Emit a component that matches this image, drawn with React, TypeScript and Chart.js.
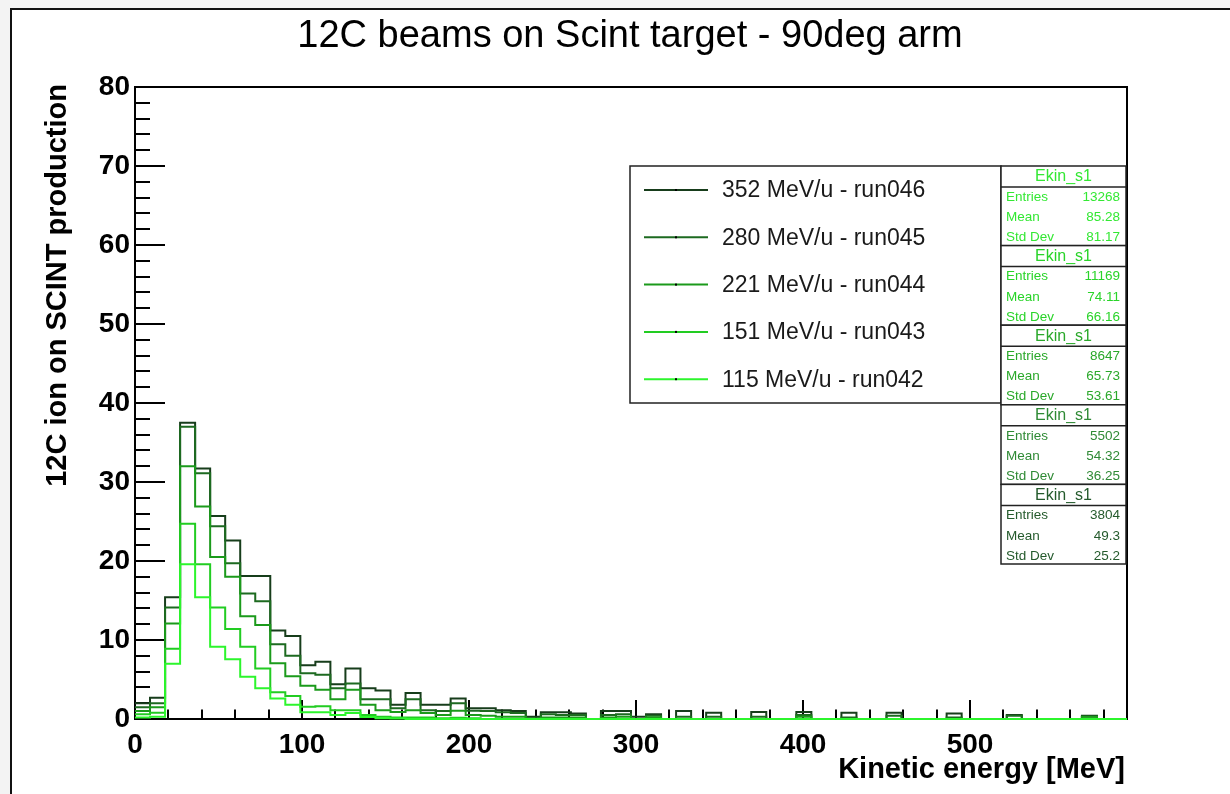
import React, { useEffect, useRef } from "react";
import { Chart, registerables } from "chart.js";

Chart.register(...registerables);

// ---------- data ----------
const BIN_WIDTH = 9;
const X_MIN = 0;
const X_MAX = 594;
const Y_MIN = 0;
const Y_MAX = 80;
const X_MAJOR = 100;
const X_MINOR = 20;
const Y_MAJOR = 10;
const Y_MINOR = 2;
const xTickValues = [0, 100, 200, 300, 400, 500];
const yTickValues = [0, 10, 20, 30, 40, 50, 60, 70, 80];

const TITLE = "12C beams on Scint target - 90deg arm";
const X_TITLE = "Kinetic energy [MeV]";
const Y_TITLE = "12C ion on SCINT production";

const seriesLabels = [
  "352 MeV/u - run046",
  "280 MeV/u - run045",
  "221 MeV/u - run044",
  "151 MeV/u - run043",
  "115 MeV/u - run042",
];

const run046 = [
  2.0, 2.7, 15.4, 37.5, 31.7, 25.7, 22.6, 18.1, 18.1, 11.2,
  10.5, 6.8, 7.25, 4.4, 6.4, 3.9, 3.6, 1.8, 3.3, 1.8,
  1.8, 2.6, 1.35, 1.35, 1.1, 1.0, 0.3, 0.85, 0.85, 0.7,
  0, 1.0, 1.0, 0.3, 0.6, 0, 1.0, 0, 0.8, 0,
  0, 0.9, 0, 0, 0.9, 0, 0, 0.8, 0, 0,
  0.8, 0, 0, 0, 0.7, 0, 0, 0, 0.5, 0,
  0, 0, 0, 0.4, 0, 0,
];
const run045 = [
  1.5, 2.0, 14.1, 37.0, 31.1, 24.4, 19.7, 15.9, 14.9, 9.45,
  8.0, 5.8, 5.6, 3.9, 4.5, 2.5, 2.5, 1.35, 2.5, 1.1,
  1.0, 2.0, 1.05, 1.0, 0.85, 0.75, 0.1, 0.6, 0.5, 0.5,
  0, 0.5, 0.6, 0, 0.4, 0, 0.3, 0, 0.3, 0,
  0, 0.3, 0, 0, 0.5, 0, 0, 0.2, 0, 0,
  0.4, 0, 0, 0, 0.2, 0, 0, 0, 0.4, 0,
  0, 0, 0, 0.3, 0, 0,
];
const run044 = [
  1.0, 1.5, 12.1, 32.0, 26.9, 20.5, 18.0, 13.0, 11.9, 7.05,
  5.4, 4.2, 3.7, 2.5, 3.7, 1.8, 1.1, 0.9, 1.1, 0.75,
  0.5, 1.05, 0.5, 0.4, 0.3, 0.3, 0, 0.2, 0.2, 0.2,
  0, 0.2, 0.3, 0, 0.2, 0, 0, 0, 0, 0,
  0, 0, 0, 0, 0.3, 0, 0, 0, 0, 0,
  0, 0, 0, 0, 0, 0, 0, 0, 0, 0,
  0, 0, 0, 0.3, 0, 0,
];
const run043 = [
  0.6, 0.8, 8.9, 24.7, 19.6, 14.1, 11.4, 9.15, 6.4, 3.4,
  2.9, 1.56, 1.6, 1.1, 1.1, 0.5, 0.3, 0.2, 0.2, 0.2,
  0.1, 0.15, 0.1, 0, 0, 0, 0, 0, 0, 0,
  0, 0, 0, 0, 0, 0, 0, 0, 0, 0,
  0, 0, 0, 0, 0, 0, 0, 0, 0, 0,
  0, 0, 0, 0, 0, 0, 0, 0, 0, 0,
  0, 0, 0, 0, 0, 0,
];
const run042 = [
  0.2, 0.3, 7.0, 19.6, 15.4, 9.15, 7.56, 5.35, 3.9, 2.6,
  1.8, 0.85, 0.85, 0.5, 0.75, 0.25, 0.1, 0.05, 0, 0,
  0, 0, 0, 0, 0, 0, 0, 0, 0, 0,
  0, 0, 0, 0, 0, 0, 0, 0, 0, 0,
  0, 0, 0, 0, 0, 0, 0, 0, 0, 0,
  0, 0, 0, 0, 0, 0, 0, 0, 0, 0,
  0, 0, 0, 0, 0, 0,
];

const seriesValues = [run046, run045, run044, run043, run042];
const seriesColors = ["#173d1b", "#1d6a20", "#1b9a1b", "#22cc22", "#2cf52c"];

const statTitle = "Ekin_s1";
const statEntries = ["13268", "11169", "8647", "5502", "3804"];
const statMeans = ["85.28", "74.11", "65.73", "54.32", "49.3"];
const statStdDevs = ["81.17", "66.16", "53.61", "36.25", "25.2"];
const statColors = ["#33e833", "#29d429", "#2aa82a", "#2f8a35", "#245a2c"];

const FONT = '"Liberation Sans", Arial, Helvetica, sans-serif';
const W = 1230;
const H = 794;

function toSteps(values: number[]) {
  const pts = values.map((v, i) => ({ x: X_MIN + i * BIN_WIDTH, y: v }));
  pts.push({ x: X_MAX, y: values[values.length - 1] });
  return pts;
}

const rootPlugin = {
  id: "rootStyle",
  beforeDraw(chart: any) {
    const ctx = chart.ctx as CanvasRenderingContext2D;
    ctx.save();
    ctx.fillStyle = "#f3f3f3";
    ctx.fillRect(0, 0, W, H);
    ctx.fillStyle = "#ffffff";
    ctx.fillRect(10, 8, W - 10, H - 8);
    ctx.strokeStyle = "#111";
    ctx.lineWidth = 2;
    ctx.beginPath();
    ctx.moveTo(11, H);
    ctx.lineTo(11, 9);
    ctx.lineTo(W, 9);
    ctx.stroke();

    ctx.fillStyle = "#000";
    ctx.textBaseline = "middle";
    ctx.textAlign = "center";
    ctx.font = `38px ${FONT}`;
    ctx.fillText(TITLE, 630, 37);

    ctx.font = `bold 29px ${FONT}`;
    ctx.save();
    ctx.translate(58, 84);
    ctx.rotate(-Math.PI / 2);
    ctx.textAlign = "right";
    ctx.fillText(Y_TITLE, 0, 0);
    ctx.restore();

    ctx.textAlign = "right";
    ctx.fillText(X_TITLE, 1125, 770);
    ctx.restore();
  },
  beforeDatasetsDraw(chart: any) {
    const ctx = chart.ctx as CanvasRenderingContext2D;
    const { left, right, top, bottom } = chart.chartArea;
    const xs = chart.scales.x;
    const ys = chart.scales.y;
    ctx.save();
    ctx.strokeStyle = "#000";
    ctx.lineWidth = 2;
    ctx.beginPath();
    for (let v = Y_MIN; v <= Y_MAX; v += Y_MINOR) {
      const y = Math.round(ys.getPixelForValue(v));
      const len = v % Y_MAJOR === 0 ? 30 : 15;
      ctx.moveTo(left, y);
      ctx.lineTo(left + len, y);
    }
    for (let v = X_MIN; v <= X_MAX; v += X_MINOR) {
      const x = Math.round(xs.getPixelForValue(v));
      const len = v % X_MAJOR === 0 ? 19 : 9.5;
      ctx.moveTo(x, bottom);
      ctx.lineTo(x, bottom - len);
    }
    ctx.stroke();
    ctx.strokeRect(left, top, right - left, bottom - top);
    ctx.restore();
  },
  afterDatasetsDraw(chart: any) {
    const ctx = chart.ctx as CanvasRenderingContext2D;
    ctx.save();
    // legend
    const lx = 630, ly = 166, lw = 371, lh = 237;
    ctx.fillStyle = "#fff";
    ctx.fillRect(lx, ly, lw, lh);
    ctx.strokeStyle = "#222";
    ctx.lineWidth = 1.5;
    ctx.strokeRect(lx, ly, lw, lh);
    ctx.font = `23px ${FONT}`;
    ctx.textAlign = "left";
    ctx.textBaseline = "middle";
    seriesLabels.forEach((label, i) => {
      const y = 190 + i * 47.3;
      ctx.strokeStyle = seriesColors[i];
      ctx.lineWidth = 2;
      ctx.beginPath();
      ctx.moveTo(644, y);
      ctx.lineTo(708, y);
      ctx.stroke();
      ctx.fillStyle = "#000";
      ctx.fillRect(675, y - 1, 2, 2);
      ctx.fillStyle = "#1a1a1a";
      ctx.fillText(label, 722, y + 1);
    });

    // stat boxes
    const sx = 1001, sw = 125, sh = 79.6;
    statEntries.forEach((entries, i) => {
      const top = 166 + i * sh;
      ctx.fillStyle = "#fff";
      ctx.fillRect(sx, top, sw, sh);
      ctx.strokeStyle = "#222";
      ctx.lineWidth = 1.5;
      ctx.strokeRect(sx, top, sw, sh);
      ctx.beginPath();
      ctx.moveTo(sx, top + 21);
      ctx.lineTo(sx + sw, top + 21);
      ctx.stroke();
      ctx.fillStyle = statColors[i];
      ctx.textAlign = "center";
      ctx.font = `16px ${FONT}`;
      ctx.fillText(statTitle, sx + sw / 2, top + 11);
      ctx.font = `13.5px ${FONT}`;
      const rows = [
        ["Entries", entries],
        ["Mean", statMeans[i]],
        ["Std Dev", statStdDevs[i]],
      ];
      const offs = [31, 51.5, 71.5];
      rows.forEach((r, k) => {
        ctx.textAlign = "left";
        ctx.fillText(r[0], sx + 5, top + offs[k]);
        ctx.textAlign = "right";
        ctx.fillText(r[1], sx + sw - 6, top + offs[k]);
      });
    });
    ctx.restore();
  },
};

export default function App() {
  const ref = useRef<HTMLCanvasElement | null>(null);
  useEffect(() => {
    if (!ref.current) return;
    const chart = new Chart(ref.current, {
      type: "line",
      data: {
        datasets: seriesValues.map((vals, i) => ({
          label: seriesLabels[i],
          data: toSteps(vals),
          borderColor: seriesColors[i],
          backgroundColor: seriesColors[i],
          borderWidth: 2,
          pointRadius: 0,
          fill: false,
          stepped: "before" as const,
          clip: 4,
          order: seriesValues.length - 1 - i,
        })),
      },
      options: {
        responsive: false,
        animation: false,
        events: [],
        layout: { padding: { top: 87, right: 103, left: 0, bottom: 0 } },
        plugins: {
          legend: { display: false },
          title: { display: false },
          tooltip: { enabled: false },
        },
        scales: {
          x: {
            type: "linear",
            min: X_MIN,
            max: X_MAX,
            afterFit(s: any) {
              s.height = 75;
            },
            afterBuildTicks(s: any) {
              s.ticks = xTickValues.map((v) => ({ value: v }));
            },
            grid: { display: false, drawTicks: false },
            border: { display: false },
            ticks: {
              autoSkip: false,
              maxRotation: 0,
              padding: 9,
              color: "#000",
              font: { family: FONT, size: 28, weight: "bold" },
            },
          },
          y: {
            type: "linear",
            min: Y_MIN,
            max: Y_MAX,
            afterFit(s: any) {
              s.width = 135;
            },
            afterBuildTicks(s: any) {
              s.ticks = yTickValues.map((v) => ({ value: v }));
            },
            grid: { display: false, drawTicks: false },
            border: { display: false },
            ticks: {
              autoSkip: false,
              padding: 5,
              color: "#000",
              font: { family: FONT, size: 28, weight: "bold" },
            },
          },
        },
      },
      plugins: [rootPlugin],
    } as any);
    return () => chart.destroy();
  }, []);
  return (
    <canvas
      ref={ref}
      width={W}
      height={H}
      style={{ position: "fixed", left: 0, top: 0, width: W, height: H }}
    />
  );
}
